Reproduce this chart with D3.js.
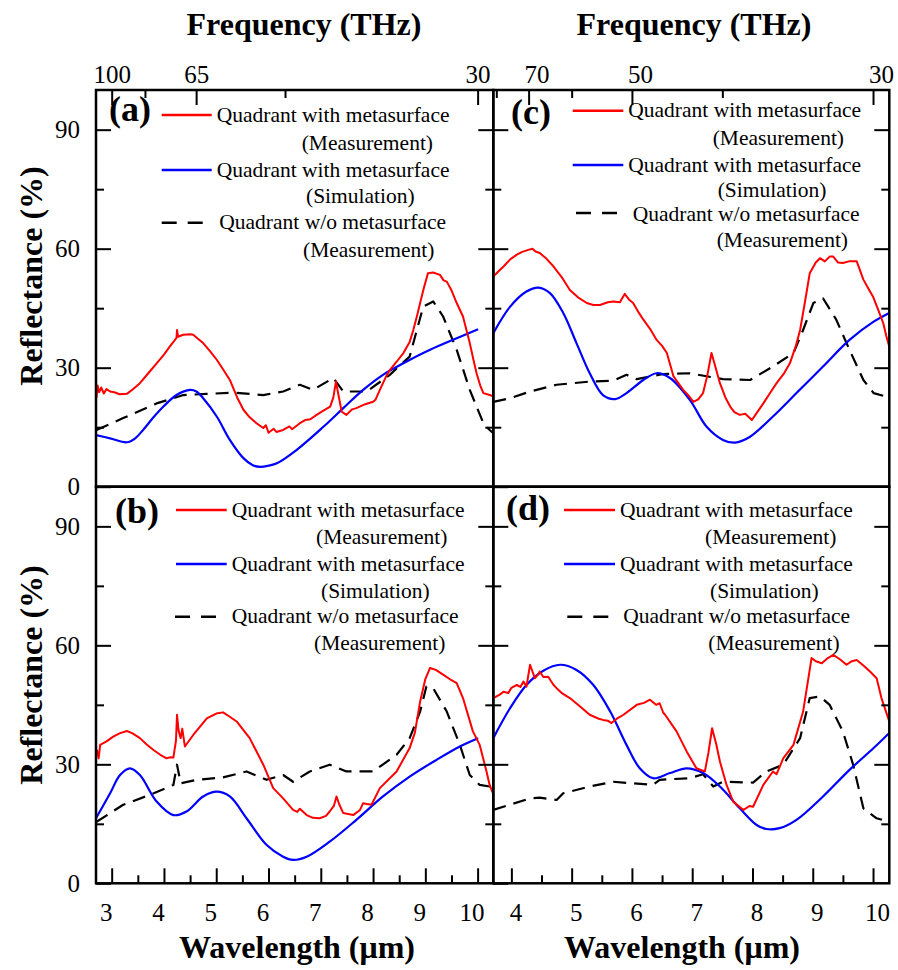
<!DOCTYPE html>
<html>
<head>
<meta charset="utf-8">
<script src="https://cdn.jsdelivr.net/npm/d3@7"></script>
<style>
  body { margin: 0; background: #fff; }
  svg text { font-family: "Liberation Serif", "Times New Roman", Times, "DejaVu Serif", serif !important; fill: #000; }
</style>
</head>
<body>
<svg id="fig" width="898" height="970" font-family="Liberation Serif, Times New Roman, serif"></svg>
<script>
// Reflectance spectra, [wavelength (µm), reflectance (%)]

// (a)
const measA = [[2.70,24.0],[2.71,22.5],[2.73,25.5],[2.76,23.8],[2.80,25.0],[2.85,23.5],[2.90,24.6],[2.97,24.0],[3.05,23.8],[3.15,23.3],[3.29,23.4],[3.40,24.5],[3.54,26.1],[3.70,28.6],[3.86,31.1],[4.00,33.3],[4.11,35.3],[4.20,36.8],[4.24,37.5],[4.25,39.5],[4.27,37.8],[4.37,38.3],[4.50,38.4],[4.56,38.3],[4.65,37.3],[4.75,36.2],[4.88,34.2],[5.01,32.0],[5.13,29.6],[5.26,26.9],[5.40,22.5],[5.52,19.4],[5.64,17.5],[5.77,16.0],[5.90,14.8],[5.95,15.5],[6.00,13.6],[6.03,13.9],[6.10,14.6],[6.15,13.8],[6.28,14.3],[6.40,15.2],[6.45,14.5],[6.60,16.0],[6.70,16.8],[6.80,17.0],[6.92,18.1],[7.05,19.2],[7.18,20.2],[7.24,22.5],[7.29,26.5],[7.34,23.0],[7.40,18.9],[7.49,18.1],[7.60,19.5],[7.68,19.8],[7.85,20.8],[8.00,21.4],[8.05,22.0],[8.13,24.4],[8.25,27.8],[8.32,29.4],[8.45,31.5],[8.58,33.7],[8.70,36.5],[8.77,39.5],[8.84,43.0],[8.90,46.3],[8.98,50.5],[9.05,53.8],[9.15,54.0],[9.28,53.4],[9.35,52.0],[9.41,51.7],[9.50,49.5],[9.60,46.3],[9.72,42.9],[9.85,36.2],[9.92,32.0],[9.98,28.6],[10.05,25.5],[10.11,23.6],[10.23,23.1],[10.30,22.8]];
const simA = [[2.70,13.0],[2.97,12.2],[3.29,11.2],[3.45,12.2],[3.60,14.3],[3.80,17.5],[3.99,20.2],[4.24,23.1],[4.50,24.4],[4.62,24.0],[4.75,22.3],[5.01,17.7],[5.26,11.8],[5.52,7.2],[5.70,5.4],[5.84,5.0],[6.00,5.3],[6.16,5.9],[6.54,9.3],[7.05,15.1],[7.43,19.8],[7.81,24.4],[8.19,28.2],[8.58,31.1],[9.09,34.5],[9.60,37.4],[10.01,39.7]];
const bareA = [[2.71,14.3],[3.22,17.3],[3.86,21.0],[4.37,23.1],[4.82,23.4],[5.33,23.7],[5.90,23.1],[6.28,24.0],[6.60,25.7],[6.85,24.4],[7.24,27.4],[7.43,24.0],[7.88,24.0],[8.32,28.2],[8.70,32.8],[8.96,45.4],[9.15,46.7],[9.34,42.9],[9.60,34.5],[9.85,24.4],[10.11,16.0],[10.23,14.3],[10.30,13.5]];

// (b)
const measB = [[2.70,32.0],[2.72,33.5],[2.75,31.5],[2.78,34.9],[2.90,35.8],[3.03,37.0],[3.15,37.8],[3.29,38.4],[3.40,37.8],[3.54,36.6],[3.67,35.0],[3.80,33.6],[3.93,32.4],[4.05,31.5],[4.12,31.8],[4.18,31.7],[4.23,36.0],[4.25,42.5],[4.28,38.5],[4.32,36.6],[4.35,39.0],[4.40,34.5],[4.56,37.4],[4.82,41.6],[5.00,42.8],[5.13,43.1],[5.26,42.0],[5.39,40.8],[5.64,36.6],[5.90,29.9],[6.09,24.0],[6.28,21.4],[6.47,18.5],[6.55,18.0],[6.60,18.8],[6.73,17.2],[6.85,16.5],[6.98,16.4],[7.10,17.0],[7.17,18.1],[7.25,19.5],[7.30,21.9],[7.35,20.0],[7.43,17.7],[7.62,17.2],[7.75,18.5],[7.81,20.2],[7.88,20.0],[7.97,19.8],[8.13,24.0],[8.45,28.2],[8.70,34.1],[8.80,38.0],[8.90,45.8],[9.00,51.5],[9.09,54.3],[9.20,53.8],[9.34,52.6],[9.50,51.2],[9.60,50.5],[9.72,46.7],[9.91,38.3],[10.04,34.9],[10.17,28.2],[10.23,24.8],[10.30,22.5]];
const simB = [[2.70,16.4],[2.97,22.7],[3.16,27.3],[3.35,29.0],[3.54,27.3],[3.86,20.6],[4.18,17.2],[4.43,18.1],[4.75,21.9],[5.01,23.1],[5.26,21.9],[5.58,16.4],[5.96,9.7],[6.28,6.7],[6.47,5.9],[6.73,6.7],[7.17,10.5],[7.68,16.0],[8.19,21.9],[8.70,26.9],[9.21,31.1],[9.66,34.5],[10.01,36.6]];
const bareB = [[2.71,15.5],[3.22,19.8],[3.73,22.3],[4.18,24.8],[4.25,29.9],[4.32,25.2],[4.63,26.1],[5.13,26.7],[5.58,28.2],[5.96,26.1],[6.28,27.3],[6.47,25.6],[6.79,28.2],[7.17,29.9],[7.49,28.2],[8.00,28.2],[8.45,32.4],[8.70,36.6],[8.90,43.3],[9.02,49.6],[9.15,49.2],[9.41,43.3],[9.66,34.9],[9.85,27.3],[10.04,24.8],[10.23,24.4],[10.30,24.2]];

// (c)
const measC = [[3.70,53.0],[3.80,54.5],[3.87,55.5],[3.98,57.3],[4.09,58.5],[4.18,59.2],[4.28,59.7],[4.35,60.0],[4.40,59.3],[4.47,58.9],[4.58,57.5],[4.70,55.5],[4.85,52.5],[4.97,49.6],[5.10,47.8],[5.25,46.3],[5.36,45.8],[5.47,45.8],[5.60,46.5],[5.69,46.7],[5.80,46.5],[5.88,48.6],[5.95,47.2],[6.02,46.3],[6.10,44.2],[6.19,42.1],[6.30,39.8],[6.41,37.0],[6.50,35.5],[6.58,33.7],[6.63,31.0],[6.69,27.8],[6.85,24.4],[6.95,22.8],[7.02,21.4],[7.10,22.0],[7.18,23.6],[7.25,28.0],[7.32,33.7],[7.38,30.5],[7.46,26.1],[7.55,22.5],[7.63,20.2],[7.70,18.8],[7.79,18.1],[7.88,18.4],[7.99,16.8],[8.08,18.8],[8.18,21.0],[8.30,23.8],[8.40,26.1],[8.52,28.5],[8.62,31.1],[8.72,35.5],[8.79,39.5],[8.87,46.5],[8.95,53.8],[9.05,56.5],[9.12,57.6],[9.20,56.8],[9.28,58.0],[9.34,58.0],[9.42,56.5],[9.50,56.4],[9.60,56.8],[9.73,56.8],[9.84,52.2],[9.92,50.0],[10.00,47.9],[10.08,44.8],[10.17,41.2],[10.22,38.0],[10.27,35.3]];
const simC = [[3.70,38.7],[3.98,45.4],[4.25,49.2],[4.45,50.2],[4.64,48.8],[4.86,43.8],[5.08,36.2],[5.30,28.6],[5.52,23.1],[5.72,22.1],[5.91,23.6],[6.19,26.9],[6.41,28.6],[6.63,27.4],[6.96,21.9],[7.24,15.1],[7.51,11.8],[7.71,11.1],[7.96,12.6],[8.34,17.7],[8.73,23.6],[9.17,30.3],[9.61,37.0],[10.01,41.6],[10.27,43.8]];
const bareC = [[3.70,21.4],[3.98,22.3],[4.31,24.0],[4.75,25.7],[5.30,26.5],[5.69,26.7],[5.91,28.2],[6.08,27.1],[6.52,28.4],[6.96,28.6],[7.51,27.1],[7.96,26.9],[8.34,30.3],[8.68,33.7],[8.84,39.5],[9.01,46.3],[9.17,47.5],[9.39,42.1],[9.61,34.5],[9.84,26.9],[10.01,23.6],[10.22,22.7],[10.27,22.5]];

// (d)
const measD = [[3.70,46.7],[3.80,47.5],[3.87,48.3],[3.95,48.0],[4.00,49.3],[4.09,50.0],[4.15,49.5],[4.20,50.9],[4.25,49.6],[4.31,55.1],[4.39,51.7],[4.45,52.8],[4.47,53.4],[4.53,52.0],[4.61,52.1],[4.70,50.0],[4.75,49.2],[4.85,47.8],[4.97,46.7],[5.14,44.6],[5.30,42.5],[5.45,41.5],[5.52,41.2],[5.60,41.0],[5.66,40.4],[5.75,41.5],[5.86,42.5],[6.08,45.0],[6.20,45.5],[6.30,46.3],[6.40,45.0],[6.46,45.4],[6.52,43.0],[6.55,42.5],[6.74,38.3],[6.91,33.2],[7.07,29.0],[7.21,28.2],[7.27,33.0],[7.33,39.1],[7.40,35.0],[7.46,30.7],[7.57,24.8],[7.68,20.6],[7.85,18.5],[7.95,19.5],[8.01,19.3],[8.18,24.8],[8.34,28.2],[8.40,27.5],[8.51,31.5],[8.68,34.9],[8.84,43.3],[8.98,56.8],[9.05,56.0],[9.15,55.5],[9.25,56.8],[9.34,57.6],[9.45,56.5],[9.56,55.1],[9.65,56.0],[9.73,56.3],[9.85,54.8],[9.95,53.4],[10.06,51.7],[10.14,46.7],[10.27,40.8]];
const simD = [[3.70,36.6],[3.98,44.2],[4.25,50.0],[4.53,53.6],[4.81,55.1],[5.08,53.8],[5.36,50.0],[5.64,43.3],[5.91,34.9],[6.13,29.0],[6.35,26.5],[6.63,27.8],[6.91,29.0],[7.18,27.8],[7.46,24.4],[7.79,18.9],[8.07,14.7],[8.23,13.7],[8.45,13.9],[8.73,16.0],[9.17,21.9],[9.61,28.6],[10.01,34.1],[10.27,37.9]];
const bareD = [[3.70,18.5],[4.31,21.4],[4.47,21.6],[4.75,21.0],[4.86,22.7],[5.30,24.4],[5.69,25.6],[6.35,24.8],[6.46,26.1],[6.96,26.5],[7.18,27.5],[7.35,24.4],[7.51,25.6],[8.01,25.4],[8.23,28.2],[8.51,29.9],[8.79,36.6],[8.95,46.7],[9.12,47.1],[9.28,45.0],[9.50,38.3],[9.67,29.9],[9.84,18.9],[10.06,16.4],[10.27,15.5]];

// Axis ticks
const wlMajor = [3, 4, 5, 6, 7, 8, 9, 10];
const wlMinor = [3.5, 4.5, 5.5, 6.5, 7.5, 8.5, 9.5];
const reflMajor = [0, 30, 60, 90];
const reflMinor = [15, 45, 75];
const freqMajorLeft = [100, 65, 30];
const freqMinorLeft = [82.5, 47.5];
const freqMajorRight = [90, 70, 50, 30];
const freqMinorRight = [80, 60, 40];

// Legend entries
const legendNames = ["Quadrant with metasurface", "Quadrant with metasurface", "Quadrant w/o metasurface"];
const legendSubs = ["(Measurement)", "(Simulation)", "(Measurement)"];

const SERIF = "'Liberation Serif','Times New Roman',Times,'DejaVu Serif',serif";

// ---------- layout ----------
const cols = [
  { x0: 96, x1: 493.3, domain: [2.7, 10.3], freqMajor: freqMajorLeft, freqMinor: freqMinorLeft, topDx: 0, botDx: -6 },
  { x0: 493.3, x1: 889.3, domain: [3.7, 10.27], freqMajor: freqMajorRight, freqMinor: freqMinorRight, topDx: 8, botDx: 4 }
];
const rows = [{ y0: 90, y1: 486.7 }, { y0: 486.7, y1: 883.3 }];

const panels = [
  { col: 0, row: 0, name: "(a)", lab: [109, 121], data: [measA, simA, bareA],
    leg: { sx: [161.7, 211.7], dx0: 161.7, ly: [115, 170, 222.7], tx: [216.7, 216.7, 219.3], ty: [122, 177, 229], sxs: [301.7, 306, 303], sys: [150, 203, 257] } },
  { col: 0, row: 1, name: "(b)", lab: [115, 523], data: [measB, simB, bareB],
    leg: { sx: [176, 226.7], dx0: 175, ly: [510, 564, 616.7], tx: [231.7, 231.7, 231.7], ty: [517, 571, 623.3], sxs: [316, 321, 314], sys: [544.3, 597.7, 650] } },
  { col: 1, row: 0, name: "(c)", lab: [511, 124], data: [measC, simC, bareC],
    leg: { sx: [572.7, 623.3], dx0: 576, ly: [110.7, 165, 213], tx: [628.3, 628.3, 632.7], ty: [117.3, 171.7, 221], sxs: [712.7, 717.7, 716.7], sys: [145, 196.5, 247] } },
  { col: 1, row: 1, name: "(d)", lab: [506, 520], data: [measD, simD, bareD],
    leg: { sx: [564, 615], dx0: 567.3, ly: [510, 564, 616.7], tx: [620, 620, 623.3], ty: [517, 571, 623.3], sxs: [705, 710, 708.3], sys: [544.3, 597.7, 650] } }
];

const styles = [
  { color: "#ff0000", dash: null, curve: d3.curveLinear, width: 2 },
  { color: "#0000ff", dash: null, curve: d3.curveCatmullRom, width: 2.2 },
  { color: "#000000", dash: "13,8", curve: d3.curveLinear, width: 2.2 }
];

const svg = d3.select("#fig");
svg.append("rect").attr("width", 898).attr("height", 970).attr("fill", "#fff");
const defs = svg.append("defs");

const majorLen = 15, minorLen = 8;

function styleAxis(g) {
  g.attr("font-family", SERIF);
  g.select(".domain").remove();
  g.selectAll(".tick line").attr("stroke", "#000").attr("stroke-width", 2);
  g.selectAll(".tick text").attr("font-size", 25).style("font-size", "25px").attr("fill", "#000")
    .style("font-family", SERIF);
}

function addText(sel, x, y, size, str, bold) {
  return sel.append("text").attr("x", x).attr("y", y)
    .style("font-family", SERIF).style("font-size", size + "px")
    .style("font-weight", bold ? "bold" : "normal").text(str);
}

panels.forEach((p, i) => {
  const c = cols[p.col], r = rows[p.row];
  const x = d3.scaleLinear().domain(c.domain).range([c.x0, c.x1]);
  const y = d3.scaleLinear().domain([0, 100]).range([r.y1, r.y0]);
  const g = svg.append("g");

  const clipId = "clip" + i;
  defs.append("clipPath").attr("id", clipId).append("rect")
    .attr("x", c.x0).attr("y", r.y0).attr("width", c.x1 - c.x0).attr("height", r.y1 - r.y0);

  // spectra
  const curves = g.append("g").attr("clip-path", `url(#${clipId})`);
  [2, 1, 0].forEach(k => {
    const s = styles[k];
    const line = d3.line().x(d => x(d[0])).y(d => y(d[1])).curve(s.curve);
    curves.append("path").datum(p.data[k])
      .attr("d", line).attr("fill", "none")
      .attr("stroke", s.color).attr("stroke-width", s.width)
      .attr("stroke-dasharray", s.dash).attr("stroke-linejoin", "round");
  });

  // left axis
  const left = g.append("g").attr("transform", `translate(${c.x0},0)`)
    .call(d3.axisLeft(y).tickValues(reflMajor).tickSize(-majorLen).tickPadding(16)
      .tickFormat(p.col === 0 ? d3.format("d") : () => ""));
  styleAxis(left);
  const leftMinor = g.append("g").attr("transform", `translate(${c.x0},0)`)
    .call(d3.axisLeft(y).tickValues(reflMinor).tickSize(-minorLen).tickFormat(() => ""));
  styleAxis(leftMinor);

  // right axis (ticks only)
  const right = g.append("g").attr("transform", `translate(${c.x1},0)`)
    .call(d3.axisRight(y).tickValues(reflMajor.filter(v => v > 0)).tickSize(-majorLen).tickFormat(() => ""));
  styleAxis(right);
  const rightMinor = g.append("g").attr("transform", `translate(${c.x1},0)`)
    .call(d3.axisRight(y).tickValues(reflMinor).tickSize(-minorLen).tickFormat(() => ""));
  styleAxis(rightMinor);

  if (p.row === 1) {
    // wavelength axis at the bottom
    const bot = g.append("g").attr("transform", `translate(0,${r.y1})`)
      .call(d3.axisBottom(x).tickValues(wlMajor.filter(v => v >= c.domain[0] && v <= c.domain[1]))
        .tickSize(-majorLen).tickFormat(d3.format("d")));
    styleAxis(bot);
    bot.selectAll(".tick text").attr("dy", null).attr("y", 38).attr("dx", c.botDx);
    const botMinor = g.append("g").attr("transform", `translate(0,${r.y1})`)
      .call(d3.axisBottom(x).tickValues(wlMinor.filter(v => v >= c.domain[0])).tickSize(-minorLen).tickFormat(() => ""));
    styleAxis(botMinor);
  } else {
    // frequency axis on top (wavelength = 300 / f)
    const toWl = f => 300 / f;
    const inside = f => toWl(f) >= c.domain[0] - 0.06 && toWl(f) <= c.domain[1];
    const top = g.append("g").attr("transform", `translate(0,${r.y0})`)
      .call(d3.axisTop(x).tickValues(c.freqMajor.filter(inside).map(toWl))
        .tickSize(-majorLen).tickPadding(7).tickFormat(w => d3.format("d")(Math.round(300 / w))));
    styleAxis(top);
    top.selectAll(".tick text").attr("dx", c.topDx);
    const topMinor = g.append("g").attr("transform", `translate(0,${r.y0})`)
      .call(d3.axisTop(x).tickValues(c.freqMinor.filter(inside).map(toWl)).tickSize(-minorLen).tickFormat(() => ""));
    styleAxis(topMinor);
  }

  // frame
  g.append("rect").attr("x", c.x0).attr("y", r.y0)
    .attr("width", c.x1 - c.x0).attr("height", r.y1 - r.y0)
    .attr("fill", "none").attr("stroke", "#000").attr("stroke-width", 2.5);

  // panel label
  addText(g, p.lab[0], p.lab[1], 36, p.name, true);

  // legend
  const L = p.leg;
  [0, 1, 2].forEach(k => {
    const s = styles[k];
    const x1 = k === 2 ? L.dx0 : L.sx[0];
    const x2 = k === 2 ? L.dx0 + 42 : L.sx[1];
    g.append("line").attr("x1", x1).attr("x2", x2).attr("y1", L.ly[k]).attr("y2", L.ly[k])
      .attr("stroke", s.color).attr("stroke-width", 2.4)
      .attr("stroke-dasharray", k === 2 ? "15,11" : null);
    addText(g, L.tx[k], L.ty[k], 21.5, legendNames[k], false);
    addText(g, L.sxs[k], L.sys[k], 21.5, legendSubs[k], false);
  });
});

// axis titles
function title(x, y, str, rotate) {
  const t = addText(svg, rotate ? 0 : x, rotate ? 0 : y, 32, str, true).attr("text-anchor", "middle");
  if (rotate) t.attr("transform", `translate(${x},${y}) rotate(-90)`);
}
title(304, 35, "Frequency (THz)");
title(694, 35, "Frequency (THz)");
title(297, 958, "Wavelength (\u03bcm)");
title(682, 958, "Wavelength (\u03bcm)");
title(42, 276, "Reflectance (%)", true);
title(42, 675, "Reflectance (%)", true);
</script>
</body>
</html>
